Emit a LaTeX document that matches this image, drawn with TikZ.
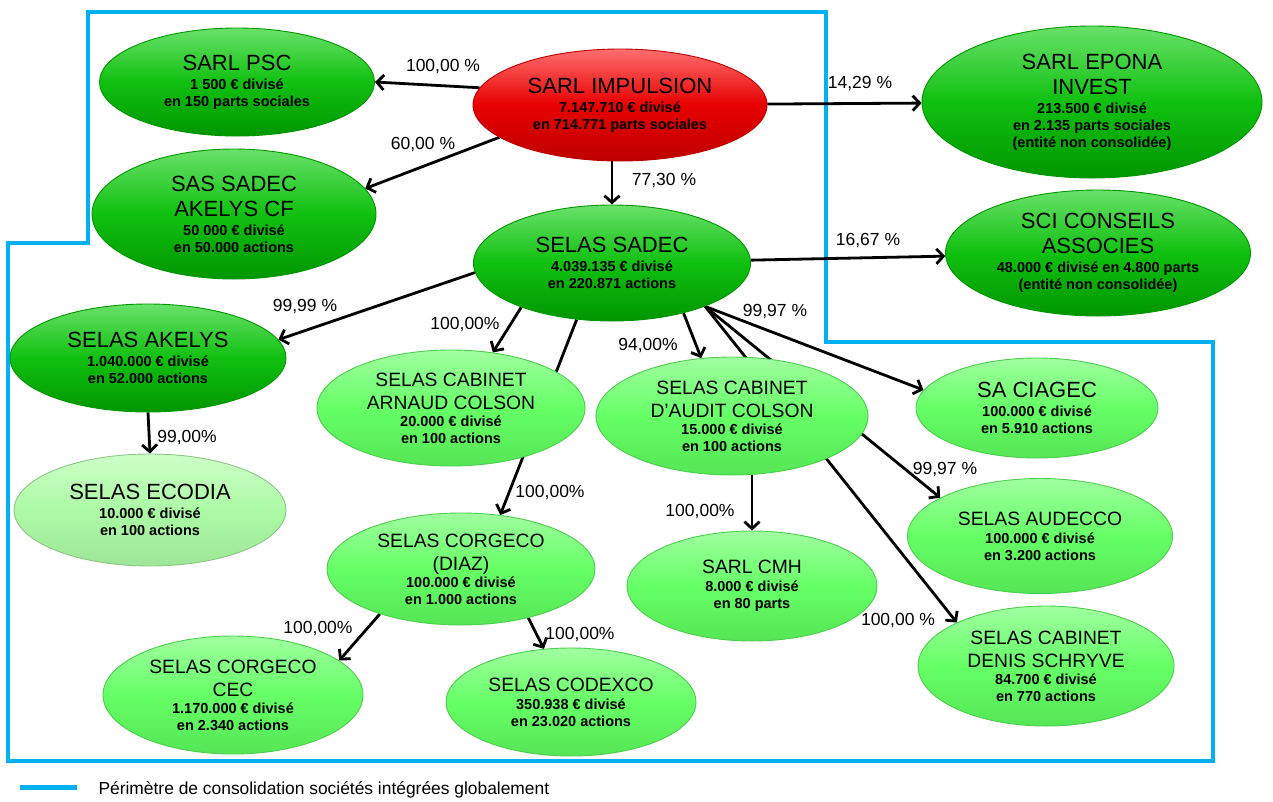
\documentclass[tikz,border=0pt]{standalone}
\usepackage{fontspec}
\setmainfont{Liberation Sans}
\usetikzlibrary{shapes.geometric,arrows.meta,backgrounds}

\definecolor{cadre}{RGB}{0,176,240}
\definecolor{vertf}{RGB}{16,192,16}
\definecolor{vertfh}{RGB}{105,225,105}
\definecolor{vertfb}{RGB}{0,150,0}
\definecolor{vertc}{RGB}{102,255,102}
\definecolor{vertch}{RGB}{160,255,160}
\definecolor{vertcb}{RGB}{85,230,85}
\definecolor{vertp}{RGB}{172,250,165}
\definecolor{vertph}{RGB}{205,255,200}
\definecolor{rougef}{RGB}{232,0,0}
\definecolor{rougeh}{RGB}{255,110,110}
\definecolor{rougeb}{RGB}{190,0,0}

\newcommand{\titre}{\fontsize{22}{25}\selectfont\mdseries}
\newcommand{\petit}{\fontsize{19.3}{22}\selectfont\mdseries}

\tikzset{
  soc/.style={ellipse, inner sep=0pt, align=center, line width=0.9pt,
    font=\fontsize{14.5}{17}\selectfont\bfseries},
  taille/.style 2 args={minimum width=#1pt, minimum height=#2pt},
  fonce/.style={soc, draw=vertfb, top color=vertfh, bottom color=vertfb, middle color=vertf},
  clair/.style={soc, draw=vertcb!90!black, top color=vertch, bottom color=vertcb, middle color=vertc},
  pale/.style={soc, draw=vertp!80!black, top color=vertph, bottom color=vertp!92!black, middle color=vertp},
  mere/.style={soc, draw=rougeb, top color=rougeh, bottom color=rougeb, middle color=rougef},
  fleche/.style={line width=2.8pt, -{Straight Barb[length=7pt,width=15pt]}},
  pct/.style={font=\fontsize{17.5}{19}\selectfont},
  perim/.style={cadre, line width=4pt}
}

\begin{document}
\begin{tikzpicture}[x=1pt,y=-1pt]
\useasboundingbox (0,0) rectangle (1273,801);

% societes
\node[mere, taille={294}{112}] (imp) at (620,105)
  {\titre SARL IMPULSION\\[2pt] 7.147.710 € divisé\\ en 714.771 parts sociales};
\node[fonce, taille={275}{108}] (psc) at (237,82)
  {\titre SARL PSC\\[2pt] 1 500 € divisé\\ en 150 parts sociales};
\node[fonce, taille={284}{130}] (akcf) at (234,214)
  {\titre SAS SADEC\\[8pt] \titre AKELYS CF\\[2pt] 50 000 € divisé\\ en 50.000 actions};
\node[fonce, taille={340}{152}] (epona) at (1092,102)
  {\titre SARL EPONA\\[8pt] \titre INVEST\\[2pt] 213.500 € divisé\\ en 2.135 parts sociales\\ (entité non consolidée)};
\node[fonce, taille={277}{116}] (sadec) at (612,263)
  {\titre SELAS SADEC\\[2pt] 4.039.135 € divisé\\ en 220.871 actions};
\node[fonce, taille={305}{126}] (sci) at (1098,253)
  {\titre SCI CONSEILS\\[8pt] \titre ASSOCIES\\[2pt] 48.000 € divisé en 4.800 parts\\ (entité non consolidée)};
\node[fonce, taille={276}{108}] (akelys) at (148,358)
  {\titre SELAS AKELYS\\[2pt] 1.040.000 € divisé\\ en 52.000 actions};
\node[clair, taille={268}{116}] (arnaud) at (451,408)
  {\petit SELAS CABINET\\[6pt] \petit ARNAUD COLSON\\ 20.000 € divisé\\ en 100 actions};
\node[clair, taille={272}{118}] (audit) at (732,416)
  {\petit SELAS CABINET\\[6pt] \petit D'AUDIT COLSON\\ 15.000 € divisé\\ en 100 actions};
\node[clair, taille={242}{100}] (ciagec) at (1037,408)
  {\titre SA CIAGEC\\[2pt] 100.000 € divisé\\ en 5.910 actions};
\node[pale, taille={272}{112}] (ecodia) at (150,510)
  {\titre SELAS ECODIA\\[2pt] 10.000 € divisé\\ en 100 actions};
\node[clair, taille={268}{112}] (corgeco) at (461,569)
  {\petit SELAS CORGECO\\[6pt] \petit (DIAZ)\\ 100.000 € divisé\\ en 1.000 actions};
\node[clair, taille={265}{115}] (audecco) at (1040,536)
  {\petit SELAS AUDECCO\\[1pt] 100.000 € divisé\\ en 3.200 actions};
\node[clair, taille={250}{110}] (cmh) at (752,586)
  {\petit SARL CMH\\[1pt] 8.000 € divisé\\ en 80 parts};
\node[clair, taille={260}{118}] (cec) at (233,695)
  {\petit SELAS CORGECO\\[6pt] \petit CEC\\ 1.170.000 € divisé\\ en 2.340 actions};
\node[clair, taille={250}{108}] (codexco) at (571,702)
  {\petit SELAS CODEXCO\\[1pt] 350.938 € divisé\\ en 23.020 actions};
\node[clair, taille={256}{120}] (denis) at (1046,666)
  {\petit SELAS CABINET\\[6pt] \petit DENIS SCHRYVE\\ 84.700 € divisé\\ en 770 actions};

% pourcentages
\node[pct] (p-psc) at (443,67) {100,00 \%};
\node[pct] (p-akcf) at (423,145) {60,00 \%};
\node[pct] (p-sadec) at (664,181) {77,30 \%};
\node[pct] (p-epona) at (860,84) {14,29 \%};
\node[pct] (p-sci) at (868,241) {16,67 \%};
\node[pct] (p-akelys) at (305,307) {99,99 \%};
\node[pct] (p-arnaud) at (465,325) {100,00\%};
\node[pct] (p-audit) at (648,346) {94,00\%};
\node[pct] (p-ciagec) at (775,312) {99,97 \%};
\node[pct] (p-ecodia) at (187,437) {99,00\%};
\node[pct] (p-corgeco) at (550,492) {100,00\%};
\node[pct] (p-cmh) at (700,511) {100,00\%};
\node[pct] (p-audecco) at (945,469) {99,97 \%};
\node[pct] (p-cec) at (318,628) {100,00\%};
\node[pct] (p-codexco) at (580,634) {100,00\%};
\node[pct] (p-denis) at (898,620) {100,00 \%};

% legende
\node[anchor=west, font=\fontsize{17.4}{19}\selectfont] (legende) at (95,790)
  {Périmètre de consolidation sociétés intégrées globalement};
\coordinate (lg-a) at (20,787);
\coordinate (lg-b) at (77,787);
\draw[perim, line width=5pt] (lg-a) -- (lg-b);

\begin{scope}[on background layer]
  % perimetre de consolidation
  \draw[perim] (88,12) -- (826,12) -- (826,342) -- (1213,342) -- (1213,761)
    -- (8,761) -- (8,243) -- (88,243) -- cycle;
  % participations
  \draw[fleche] (imp.173) -- (psc.0);
  \draw[fleche] (imp.195) -- (akcf.11);
  \draw[fleche] (sadec.north |- imp.south) -- (sadec.north);
  \draw[fleche] (imp) -- (epona);
  \draw[fleche] (sadec) -- (sci);
  \draw[fleche] (sadec.184) -- (akelys.8);
  \draw[fleche] (sadec.206) -- (arnaud.53);
  \draw[fleche] (sadec.238) -- (corgeco.54);
  \draw[fleche] (sadec.325) -- (audit.118);
  \draw[fleche] (sadec.335) -- (ciagec.171);
  \draw[fleche] (sadec.335) -- (audecco.159);
  \draw[fleche] (sadec.335) -- (denis.154);
  \draw[fleche] (akelys.south) -- (ecodia.north);
  \draw[fleche] (cmh.north |- audit.south) -- (cmh.north);
  \draw[fleche] (corgeco.209) -- (cec.18);
  \draw[fleche] (corgeco.324) -- (codexco.117);
\end{scope}
\end{tikzpicture}
\end{document}
